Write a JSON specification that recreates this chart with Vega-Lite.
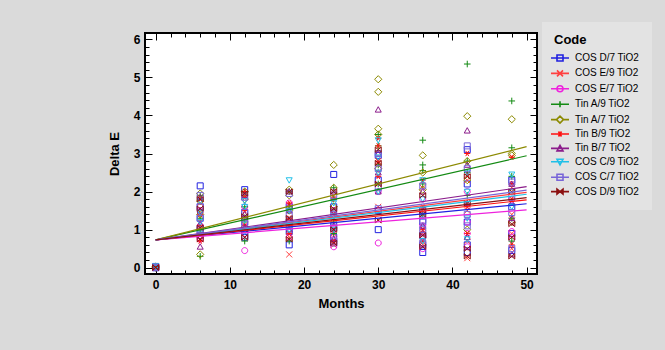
{
  "$schema": "https://vega.github.io/schema/vega-lite/v6.json",
  "autosize": {"type": "none"},
  "width": 392,
  "height": 241,
  "padding": {"left": 145, "top": 33, "right": 128, "bottom": 76},
  "background": "#dadada",
  "config": {
    "view": {"fill": "white", "stroke": "black", "strokeWidth": 2},
    "font": "Liberation Sans",
    "axis": {"labelFont": "Liberation Sans", "labelFontWeight": "bold", "labelFontSize": 12, "labelColor": "black", "titleFont": "Liberation Sans", "titleFontWeight": "bold", "titleFontSize": 13, "titleColor": "black", "tickColor": "black", "tickWidth": 1, "domain": false, "grid": false},
    "point": {"filled": false, "strokeWidth": 1, "size": 36, "opacity": 1}
  },
  "datasets": {
    "points": [
      {"Code": "COS D/7 TiO2", "Months": 0, "E": [0, 0.03]},
      {"Code": "COS D/7 TiO2", "Months": 6, "E": [2.15, 1.6, 1.3, 1.0, 0.85]},
      {"Code": "COS D/7 TiO2", "Months": 12, "E": [2.05, 1.45, 1.2, 0.95, 0.8]},
      {"Code": "COS D/7 TiO2", "Months": 18, "E": [1.6, 1.2, 0.6, 0.95]},
      {"Code": "COS D/7 TiO2", "Months": 24, "E": [2.45, 1.6, 1.1, 0.8, 0.65]},
      {"Code": "COS D/7 TiO2", "Months": 30, "E": [2.95, 2.3, 1.5, 1.0]},
      {"Code": "COS D/7 TiO2", "Months": 36, "E": [1.5, 1.2, 0.85, 0.4, 0.6]},
      {"Code": "COS D/7 TiO2", "Months": 42, "E": [3.1, 2.2, 1.2, 0.6, 0.4]},
      {"Code": "COS D/7 TiO2", "Months": 48, "E": [2.3, 1.6, 0.9, 0.45]},
      {"Code": "COS E/9 TiO2", "Months": 0, "E": [0, 0.02]},
      {"Code": "COS E/9 TiO2", "Months": 6, "E": [1.7, 1.2, 0.95, 0.75]},
      {"Code": "COS E/9 TiO2", "Months": 12, "E": [1.9, 1.3, 1.0, 0.8]},
      {"Code": "COS E/9 TiO2", "Months": 18, "E": [1.65, 1.1, 0.35, 0.8]},
      {"Code": "COS E/9 TiO2", "Months": 24, "E": [1.9, 1.3, 0.9, 0.6]},
      {"Code": "COS E/9 TiO2", "Months": 30, "E": [2.8, 2.2, 1.25, 1.6]},
      {"Code": "COS E/9 TiO2", "Months": 36, "E": [2.1, 1.5, 0.9, 0.6]},
      {"Code": "COS E/9 TiO2", "Months": 42, "E": [2.3, 1.5, 0.7, 0.25]},
      {"Code": "COS E/9 TiO2", "Months": 48, "E": [2.1, 1.4, 0.9, 0.5]},
      {"Code": "COS E/7 TiO2", "Months": 0, "E": [0, 0.01]},
      {"Code": "COS E/7 TiO2", "Months": 6, "E": [1.5, 1.1, 0.9, 0.75]},
      {"Code": "COS E/7 TiO2", "Months": 12, "E": [1.6, 1.2, 0.9, 0.45]},
      {"Code": "COS E/7 TiO2", "Months": 18, "E": [1.7, 1.1, 0.8]},
      {"Code": "COS E/7 TiO2", "Months": 24, "E": [1.5, 1.0, 0.75, 0.55]},
      {"Code": "COS E/7 TiO2", "Months": 30, "E": [2.6, 2.0, 0.65]},
      {"Code": "COS E/7 TiO2", "Months": 36, "E": [1.8, 1.1, 0.8, 0.5]},
      {"Code": "COS E/7 TiO2", "Months": 42, "E": [2.0, 1.2, 0.9, 0.55]},
      {"Code": "COS E/7 TiO2", "Months": 48, "E": [1.8, 1.2, 0.95, 0.75]},
      {"Code": "Tin A/9 TiO2", "Months": 0, "E": [0, 0.02]},
      {"Code": "Tin A/9 TiO2", "Months": 6, "E": [1.9, 1.3, 1.0, 0.3]},
      {"Code": "Tin A/9 TiO2", "Months": 12, "E": [2.0, 1.6, 1.2, 0.7]},
      {"Code": "Tin A/9 TiO2", "Months": 18, "E": [2.0, 1.6, 1.1, 0.7]},
      {"Code": "Tin A/9 TiO2", "Months": 24, "E": [2.1, 1.8, 1.2, 0.9]},
      {"Code": "Tin A/9 TiO2", "Months": 30, "E": [3.5, 3.2, 2.7, 2.2]},
      {"Code": "Tin A/9 TiO2", "Months": 36, "E": [3.35, 2.7, 2.55, 2.2, 1.4]},
      {"Code": "Tin A/9 TiO2", "Months": 42, "E": [5.35, 2.8, 2.5, 1.9]},
      {"Code": "Tin A/9 TiO2", "Months": 48, "E": [4.38, 3.15, 2.4, 1.3, 0.7]},
      {"Code": "Tin A/7 TiO2", "Months": 0, "E": [0, 0.03]},
      {"Code": "Tin A/7 TiO2", "Months": 6, "E": [1.95, 1.75, 1.4, 0.35]},
      {"Code": "Tin A/7 TiO2", "Months": 12, "E": [2.0, 1.8, 1.3]},
      {"Code": "Tin A/7 TiO2", "Months": 18, "E": [2.05, 1.9, 1.5]},
      {"Code": "Tin A/7 TiO2", "Months": 24, "E": [2.7, 2.1, 1.6]},
      {"Code": "Tin A/7 TiO2", "Months": 30, "E": [4.95, 4.62, 3.65, 3.5, 2.6]},
      {"Code": "Tin A/7 TiO2", "Months": 36, "E": [2.95, 2.05, 2.5]},
      {"Code": "Tin A/7 TiO2", "Months": 42, "E": [3.98, 2.8, 2.3, 1.0]},
      {"Code": "Tin A/7 TiO2", "Months": 48, "E": [3.9, 3.0, 2.95, 1.2]},
      {"Code": "Tin B/9 TiO2", "Months": 0, "E": [0, 0.02]},
      {"Code": "Tin B/9 TiO2", "Months": 6, "E": [1.8, 1.4, 1.1, 0.7]},
      {"Code": "Tin B/9 TiO2", "Months": 12, "E": [2.0, 1.85, 1.5, 1.1]},
      {"Code": "Tin B/9 TiO2", "Months": 18, "E": [1.7, 1.3, 0.9]},
      {"Code": "Tin B/9 TiO2", "Months": 24, "E": [1.8, 1.4, 1.0, 0.7]},
      {"Code": "Tin B/9 TiO2", "Months": 30, "E": [3.4, 3.2, 2.8, 2.4]},
      {"Code": "Tin B/9 TiO2", "Months": 36, "E": [2.3, 1.6, 1.0, 0.7]},
      {"Code": "Tin B/9 TiO2", "Months": 42, "E": [3.0, 2.45, 1.6, 0.9]},
      {"Code": "Tin B/9 TiO2", "Months": 48, "E": [2.9, 2.2, 1.8, 0.6]},
      {"Code": "Tin B/7 TiO2", "Months": 0, "E": [0, 0.02]},
      {"Code": "Tin B/7 TiO2", "Months": 6, "E": [1.85, 1.5, 1.15, 0.55]},
      {"Code": "Tin B/7 TiO2", "Months": 12, "E": [1.9, 1.4, 1.05]},
      {"Code": "Tin B/7 TiO2", "Months": 18, "E": [2.0, 1.5, 1.0]},
      {"Code": "Tin B/7 TiO2", "Months": 24, "E": [2.0, 1.5, 1.1, 0.75]},
      {"Code": "Tin B/7 TiO2", "Months": 30, "E": [4.15, 3.0, 2.5, 2.0]},
      {"Code": "Tin B/7 TiO2", "Months": 36, "E": [2.0, 1.5, 1.1, 0.9]},
      {"Code": "Tin B/7 TiO2", "Months": 42, "E": [3.6, 2.7, 1.7, 0.8]},
      {"Code": "Tin B/7 TiO2", "Months": 48, "E": [2.2, 1.7, 1.3, 0.35]},
      {"Code": "COS C/9 TiO2", "Months": 0, "E": [0.0, 0.05]},
      {"Code": "COS C/9 TiO2", "Months": 6, "E": [1.75, 1.45, 1.2, 0.9]},
      {"Code": "COS C/9 TiO2", "Months": 12, "E": [1.75, 1.6, 1.25, 0.95]},
      {"Code": "COS C/9 TiO2", "Months": 18, "E": [2.3, 1.5, 1.0]},
      {"Code": "COS C/9 TiO2", "Months": 24, "E": [1.7, 1.35, 1.0]},
      {"Code": "COS C/9 TiO2", "Months": 30, "E": [3.35, 2.9, 2.5, 2.0]},
      {"Code": "COS C/9 TiO2", "Months": 36, "E": [2.3, 1.8, 1.35, 0.7]},
      {"Code": "COS C/9 TiO2", "Months": 42, "E": [2.5, 2.0, 1.3, 0.75]},
      {"Code": "COS C/9 TiO2", "Months": 48, "E": [2.45, 2.0, 1.6]},
      {"Code": "COS C/7 TiO2", "Months": 0, "E": [0, 0.02]},
      {"Code": "COS C/7 TiO2", "Months": 6, "E": [1.9, 1.6, 1.3, 1.0]},
      {"Code": "COS C/7 TiO2", "Months": 12, "E": [1.85, 1.45, 1.15, 0.85]},
      {"Code": "COS C/7 TiO2", "Months": 18, "E": [1.95, 1.4, 1.1]},
      {"Code": "COS C/7 TiO2", "Months": 24, "E": [1.9, 1.4, 1.05, 0.7]},
      {"Code": "COS C/7 TiO2", "Months": 30, "E": [3.0, 2.6, 1.55, 2.1]},
      {"Code": "COS C/7 TiO2", "Months": 36, "E": [2.15, 1.25, 1.0, 0.65]},
      {"Code": "COS C/7 TiO2", "Months": 42, "E": [3.2, 2.6, 1.4, 1.1]},
      {"Code": "COS C/7 TiO2", "Months": 48, "E": [2.25, 1.85, 1.45, 0.5]},
      {"Code": "COS D/9 TiO2", "Months": 0, "E": [0, 0.01]},
      {"Code": "COS D/9 TiO2", "Months": 6, "E": [1.8, 1.55, 1.05, 0.75]},
      {"Code": "COS D/9 TiO2", "Months": 12, "E": [1.95, 1.35, 1.0, 0.8]},
      {"Code": "COS D/9 TiO2", "Months": 18, "E": [2.0, 1.3, 0.75]},
      {"Code": "COS D/9 TiO2", "Months": 24, "E": [2.0, 1.55, 1.0, 0.65]},
      {"Code": "COS D/9 TiO2", "Months": 30, "E": [3.1, 2.75, 2.2, 1.25]},
      {"Code": "COS D/9 TiO2", "Months": 36, "E": [1.9, 1.4, 0.85, 0.55]},
      {"Code": "COS D/9 TiO2", "Months": 42, "E": [2.4, 1.7, 0.5, 0.3]},
      {"Code": "COS D/9 TiO2", "Months": 48, "E": [2.0, 1.15, 0.8, 0.3]}
    ],
    "fits": [
      {"Code": "COS D/7 TiO2", "Months": 0, "E": 0.73}, {"Code": "COS D/7 TiO2", "Months": 50, "E": 1.68},
      {"Code": "COS E/9 TiO2", "Months": 0, "E": 0.73}, {"Code": "COS E/9 TiO2", "Months": 50, "E": 1.98},
      {"Code": "COS E/7 TiO2", "Months": 0, "E": 0.73}, {"Code": "COS E/7 TiO2", "Months": 50, "E": 1.52},
      {"Code": "Tin A/9 TiO2", "Months": 0, "E": 0.73}, {"Code": "Tin A/9 TiO2", "Months": 50, "E": 2.94},
      {"Code": "Tin A/7 TiO2", "Months": 0, "E": 0.73}, {"Code": "Tin A/7 TiO2", "Months": 50, "E": 3.18},
      {"Code": "Tin B/9 TiO2", "Months": 0, "E": 0.73}, {"Code": "Tin B/9 TiO2", "Months": 50, "E": 1.78},
      {"Code": "Tin B/7 TiO2", "Months": 0, "E": 0.73}, {"Code": "Tin B/7 TiO2", "Months": 50, "E": 2.13},
      {"Code": "COS C/9 TiO2", "Months": 0, "E": 0.73}, {"Code": "COS C/9 TiO2", "Months": 50, "E": 1.93},
      {"Code": "COS C/7 TiO2", "Months": 0, "E": 0.73}, {"Code": "COS C/7 TiO2", "Months": 50, "E": 2.04},
      {"Code": "COS D/9 TiO2", "Months": 0, "E": 0.73}, {"Code": "COS D/9 TiO2", "Months": 50, "E": 1.84}
    ]
  },
  "resolve": {"axis": {"x": "independent", "y": "independent"}, "scale": {"color": "independent"}},
  "layer": [
    {
      "data": {"name": "points"},
      "transform": [{"flatten": ["E"]}],
      "encoding": {
        "x": {"field": "Months", "type": "quantitative",
          "scale": {"domain": [-1.44, 51.4], "nice": false, "zero": false},
          "axis": {"orient": "bottom", "values": [0,2,4,6,8,10,12,14,16,18,20,22,24,26,28,30,32,34,36,38,40,42,44,46,48,50],
            "labelExpr": "datum.value % 10 === 0 ? '' + datum.value : ''",
            "tickSize": {"condition": {"test": "datum.value % 10 === 0", "value": -7}, "value": -4},
            "labelPadding": 12, "title": "Months", "titlePadding": 7}},
        "y": {"field": "E", "type": "quantitative",
          "scale": {"domain": [-0.165, 6.165], "nice": false, "zero": false},
          "axis": {"orient": "left", "values": [0,0.2,0.4,0.6,0.8,1,1.2,1.4,1.6,1.8,2,2.2,2.4,2.6,2.8,3,3.2,3.4,3.6,3.8,4,4.2,4.4,4.6,4.8,5,5.2,5.4,5.6,5.8,6],
            "labelExpr": "datum.value % 1 === 0 ? '' + datum.value : ''",
            "tickSize": {"condition": {"test": "datum.value % 1 === 0", "value": -7}, "value": -4},
            "labelPadding": 12, "title": "Delta E", "titlePadding": 12}},
        "color": {"field": "Code", "type": "nominal",
          "scale": {"domain": ["COS D/7 TiO2","COS E/9 TiO2","COS E/7 TiO2","Tin A/9 TiO2","Tin A/7 TiO2","Tin B/9 TiO2","Tin B/7 TiO2","COS C/9 TiO2","COS C/7 TiO2","COS D/9 TiO2"],
            "range": ["#2020e0","#ff4040","#ee22dd","#138a13","#8c8a00","#ff1010","#8b1c8b","#20c0e8","#7865d8","#8b1010"]},
          "legend": null}
      },
      "layer": [
        {"transform": [{"filter": "datum.Code === 'COS D/7 TiO2'"}], "mark": {"type": "point", "shape": "M-1,-1H1V1H-1Z"}},
        {"transform": [{"filter": "datum.Code === 'COS E/9 TiO2'"}], "mark": {"type": "point", "shape": "M-1,-1L1,1M-1,1L1,-1"}},
        {"transform": [{"filter": "datum.Code === 'COS E/7 TiO2'"}], "mark": {"type": "point", "shape": "M-1,0A1,1 0 1,0 1,0A1,1 0 1,0 -1,0"}},
        {"transform": [{"filter": "datum.Code === 'Tin A/9 TiO2'"}], "mark": {"type": "point", "shape": "M-1.1,0H1.1M0,-1.1V1.1"}},
        {"transform": [{"filter": "datum.Code === 'Tin A/7 TiO2'"}], "mark": {"type": "point", "shape": "M0,-1.2L1.2,0L0,1.2L-1.2,0Z"}},
        {"transform": [{"filter": "datum.Code === 'Tin B/9 TiO2'"}], "mark": {"type": "point", "shape": "M-1,0H1M-0.5,-0.87L0.5,0.87M-0.5,0.87L0.5,-0.87"}},
        {"transform": [{"filter": "datum.Code === 'Tin B/7 TiO2'"}], "mark": {"type": "point", "shape": "M0,-1L1,0.8H-1Z"}},
        {"transform": [{"filter": "datum.Code === 'COS C/9 TiO2'"}], "mark": {"type": "point", "shape": "M0,1L1,-0.8H-1Z"}},
        {"transform": [{"filter": "datum.Code === 'COS C/7 TiO2'"}], "mark": {"type": "point", "shape": "M-1,-1H1V1H-1Z"}},
        {"transform": [{"filter": "datum.Code === 'COS D/9 TiO2'"}], "mark": {"type": "point", "shape": "M-1,-0.9L1,0.9V-0.9L-1,0.9Z"}}
      ]
    },
    {
      "data": {"name": "fits"},
      "mark": {"type": "line", "strokeWidth": 1.2},
      "encoding": {
        "x": {"field": "Months", "type": "quantitative",
          "axis": {"orient": "top", "values": [0,2,4,6,8,10,12,14,16,18,20,22,24,26,28,30,32,34,36,38,40,42,44,46,48,50], "labels": false, "title": null,
            "tickSize": {"condition": {"test": "datum.value % 10 === 0", "value": -7}, "value": -4}}},
        "y": {"field": "E", "type": "quantitative",
          "axis": {"orient": "right", "values": [0,0.2,0.4,0.6,0.8,1,1.2,1.4,1.6,1.8,2,2.2,2.4,2.6,2.8,3,3.2,3.4,3.6,3.8,4,4.2,4.4,4.6,4.8,5,5.2,5.4,5.6,5.8,6], "labels": false, "title": null,
            "tickSize": {"condition": {"test": "datum.value % 1 === 0", "value": -7}, "value": -4}}},
        "color": {"field": "Code", "type": "nominal",
          "scale": {"domain": ["COS D/7 TiO2","COS E/9 TiO2","COS E/7 TiO2","Tin A/9 TiO2","Tin A/7 TiO2","Tin B/9 TiO2","Tin B/7 TiO2","COS C/9 TiO2","COS C/7 TiO2","COS D/9 TiO2"],
            "range": ["#2020e0","#ff4040","#ee22dd","#138a13","#8c8a00","#ff1010","#8b1c8b","#20c0e8","#7865d8","#8b1010"]},
          "legend": {"orient": "none", "legendX": 397, "legendY": -11, "title": "Code", "titleFont": "Liberation Sans", "titleFontSize": 13, "titleFontWeight": "bold", "titleColor": "black", "titlePadding": 5,
            "labelFont": "Liberation Sans", "labelFontSize": 10, "labelColor": "black", "labelOffset": 9, "symbolSize": 100, "rowPadding": 1.4, "padding": 12, "fillColor": "#e3e3e3",
            "symbolType": {"expr": "{'COS D/7 TiO2':'M-1.8,0H1.8M-0.6,-0.6H0.6V0.6H-0.6Z','COS E/9 TiO2':'M-1.8,0H1.8M-0.6,-0.6L0.6,0.6M-0.6,0.6L0.6,-0.6','COS E/7 TiO2':'M-1.8,0H1.8M-0.6,0A0.6,0.6 0 1,0 0.6,0A0.6,0.6 0 1,0 -0.6,0','Tin A/9 TiO2':'M-1.8,0H1.8M0,-0.6V0.6','Tin A/7 TiO2':'M-1.8,0H-0.7L0,-0.7L0.7,0L0,0.7L-0.7,0M0.7,0H1.8','Tin B/9 TiO2':'M-1.8,0H1.8M-0.3,-0.5L0.3,0.5M-0.3,0.5L0.3,-0.5','Tin B/7 TiO2':'M-1.8,0H1.8M0,-0.6L0.6,0.5H-0.6Z','COS C/9 TiO2':'M-1.8,0H1.8M0,0.6L0.6,-0.5H-0.6Z','COS C/7 TiO2':'M-1.8,0H1.8M-0.6,-0.6H0.6V0.6H-0.6Z','COS D/9 TiO2':'M-1.8,0H1.8M-0.6,-0.5L0.6,0.5V-0.5L-0.6,0.5Z'}[datum.value]"},
            "symbolStrokeWidth": 1.6,
            "symbolFillColor": "transparent"}},
        "detail": {"field": "Code"}
      }
    }
  ]
}
